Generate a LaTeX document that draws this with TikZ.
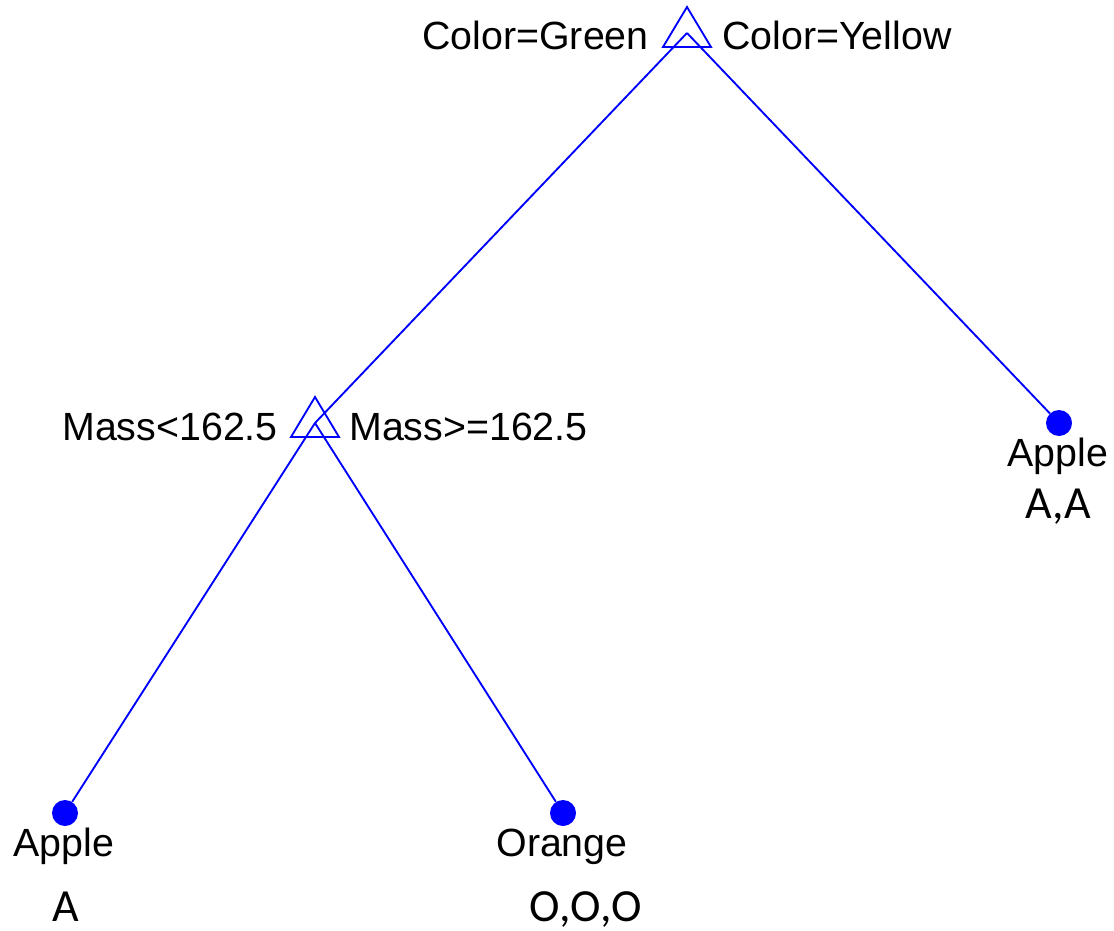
\documentclass[tikz,border=0pt]{standalone}
\usepackage{fontspec}
\setmainfont{Liberation Sans}
\newfontfamily\countfont{Carlito}
\usetikzlibrary{calc}
\definecolor{treeblue}{RGB}{0,0,255}
\tikzset{
  edge/.style={draw=treeblue, line width=1.4pt},
  tri/.style={draw=treeblue, line width=1.4pt, line join=miter},
  leaf/.style={circle, fill=treeblue, draw=none, minimum size=19.5pt, inner sep=0pt},
  lab/.style={inner sep=0pt, font=\fontsize{29.5}{32}\selectfont},
  cnt/.style={inner sep=0pt, font=\countfont\fontsize{34.5}{38}\selectfont}
}
\newcommand\splittri[1]{\draw[tri] ($(#1)+(0,-26)$) -- ++(24,40) -- ++(-48,0) -- cycle;}
\begin{document}
\begin{tikzpicture}[x=0.75pt, y=-0.75pt]
\useasboundingbox (0,0) rectangle (1114,931);
% split points
\coordinate (root) at (687,33);
\coordinate (mid) at (315,423);
% leaves
\node[leaf] (leafA) at (65,813) {};
\node[leaf] (leafO) at (563,813) {};
\node[leaf] (leafR) at (1059,423) {};
% connectors
\draw[edge] (root) -- (mid);
\draw[edge] (root) -- (leafR);
\draw[edge] (mid) -- (leafA);
\draw[edge] (mid) -- (leafO);
% triangles
\splittri{root}
\splittri{mid}
% split labels
\node[lab, anchor=base east] (cg) at (649,50) {Color=Green};
\node[lab, anchor=base west] (cy) at (722,50) {Color=Yellow};
\node[lab, anchor=base east] (ml) at (278,440) {Mass<162.5};
\node[lab, anchor=base west] (mg) at (349,440) {Mass>=162.5};
% leaf labels
\node[lab, anchor=base] (tA) at (64,856) {Apple};
\node[lab, anchor=base] (tO) at (562,856) {Orange};
\node[lab, anchor=base] (tR) at (1058,466) {Apple};
% counts
\node[cnt, anchor=base] (cA) at (66,921) {A};
\node[cnt, anchor=base] (cO) at (586,921) {O,O,O};
\node[cnt, anchor=base] (cR) at (1058,518) {A,A};
\end{tikzpicture}
\end{document}
